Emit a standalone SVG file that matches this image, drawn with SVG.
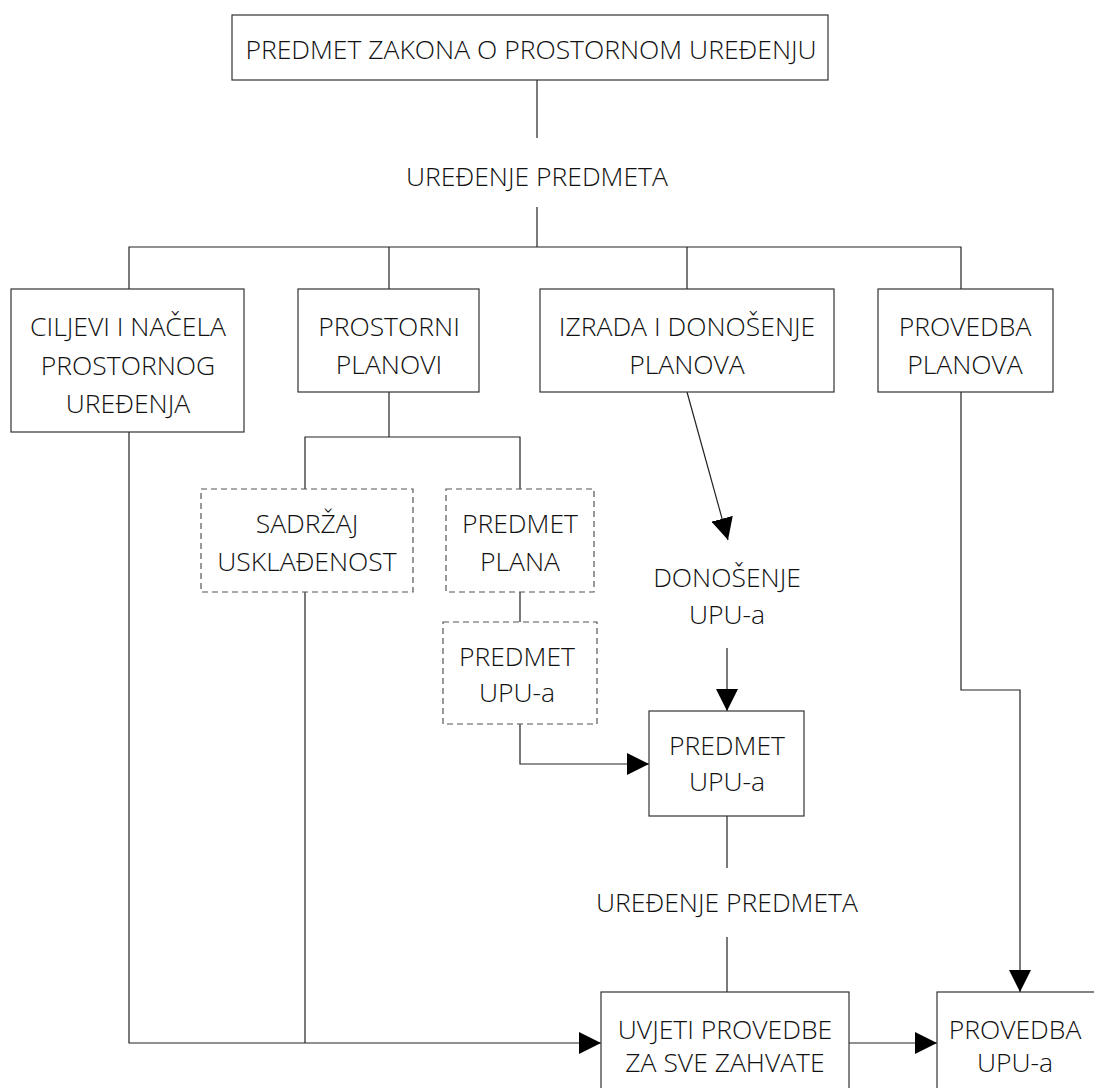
<svg xmlns="http://www.w3.org/2000/svg" width="1094" height="1088" viewBox="0 0 1094 1088">
  <style>
    .box { fill: #ffffff; stroke: #333333; stroke-width: 1.2; }
    .dash { fill: #ffffff; stroke: #555555; stroke-width: 1.2; stroke-dasharray: 6 4; }
    .lbl { font-family: "Open Sans", "Liberation Sans", sans-serif; font-weight: 300; font-size: 26.5px; fill: #111111; text-anchor: middle; }
    .wire { fill: none; stroke: #222222; stroke-width: 1.2; }
  </style>
  <defs>
    <marker id="arrow" viewBox="0 0 10 10" refX="10" refY="5" markerWidth="22" markerHeight="22" markerUnits="userSpaceOnUse" orient="auto">
      <path d="M0,0 L10,5 L0,10 Z" fill="#000000"/>
    </marker>
  </defs>
  <rect width="1094" height="1088" fill="#ffffff"/>

  <g id="connectors">
    <path class="wire" d="M537,80 V138"/>
    <path class="wire" d="M537,207 V247"/>
    <path class="wire" d="M129,289 V247 H961 V289"/>
    <path class="wire" d="M389,247 V289"/>
    <path class="wire" d="M687,247 V289"/>
    <path class="wire" d="M389,392 V437"/>
    <path class="wire" d="M305,489 V437 H520 V489"/>
    <path class="wire" d="M520,592 V622"/>
    <path class="wire" d="M520,724 V764 H649" marker-end="url(#arrow)"/>
    <path class="wire" d="M687,392 L728,540" marker-end="url(#arrow)"/>
    <path class="wire" d="M727,648 V711" marker-end="url(#arrow)"/>
    <path class="wire" d="M727,816 V868"/>
    <path class="wire" d="M727,937 V992"/>
    <path class="wire" d="M129,432 V1043 H601" marker-end="url(#arrow)"/>
    <path class="wire" d="M305,592 V1043"/>
    <path class="wire" d="M849,1043 H937" marker-end="url(#arrow)"/>
    <path class="wire" d="M961,392 V690 H1020 V992" marker-end="url(#arrow)"/>
  </g>

  <g id="predmet-zakona">
    <rect class="box" x="232" y="15" width="596" height="65"/>
    <text class="lbl" x="531" y="59">PREDMET ZAKONA O PROSTORNOM UREĐENJU</text>
  </g>
  <g id="uredjenje-predmeta-1">
    <text class="lbl" x="537" y="186">UREĐENJE PREDMETA</text>
  </g>
  <g id="ciljevi">
    <rect class="box" x="11" y="289" width="233" height="143"/>
    <text class="lbl" x="128" y="336">CILJEVI I NAČELA</text>
    <text class="lbl" x="128" y="375">PROSTORNOG</text>
    <text class="lbl" x="128" y="413">UREĐENJA</text>
  </g>
  <g id="prostorni-planovi">
    <rect class="box" x="298" y="289" width="181" height="103"/>
    <text class="lbl" x="389" y="336">PROSTORNI</text>
    <text class="lbl" x="389" y="374">PLANOVI</text>
  </g>
  <g id="izrada-donosenje">
    <rect class="box" x="540" y="289" width="294" height="103"/>
    <text class="lbl" x="687" y="336">IZRADA I DONOŠENJE</text>
    <text class="lbl" x="687" y="374">PLANOVA</text>
  </g>
  <g id="provedba-planova">
    <rect class="box" x="878" y="289" width="175" height="103"/>
    <text class="lbl" x="965" y="336">PROVEDBA</text>
    <text class="lbl" x="965" y="374">PLANOVA</text>
  </g>
  <g id="sadrzaj">
    <rect class="dash" x="201" y="489" width="212" height="103"/>
    <text class="lbl" x="307" y="533">SADRŽAJ</text>
    <text class="lbl" x="307" y="571">USKLAĐENOST</text>
  </g>
  <g id="predmet-plana">
    <rect class="dash" x="446" y="489" width="148" height="103"/>
    <text class="lbl" x="520" y="533">PREDMET</text>
    <text class="lbl" x="520" y="571">PLANA</text>
  </g>
  <g id="predmet-upu-dashed">
    <rect class="dash" x="443" y="622" width="154" height="102"/>
    <text class="lbl" x="517" y="666">PREDMET</text>
    <text class="lbl" x="517" y="702">UPU-a</text>
  </g>
  <g id="donosenje-upu">
    <text class="lbl" x="727" y="587">DONOŠENJE</text>
    <text class="lbl" x="727" y="624">UPU-a</text>
  </g>
  <g id="predmet-upu">
    <rect class="box" x="649" y="711" width="155" height="105"/>
    <text class="lbl" x="727" y="755">PREDMET</text>
    <text class="lbl" x="727" y="791">UPU-a</text>
  </g>
  <g id="uredjenje-predmeta-2">
    <text class="lbl" x="727" y="912">UREĐENJE PREDMETA</text>
  </g>
  <g id="uvjeti-provedbe">
    <rect class="box" x="601" y="992" width="248" height="110"/>
    <text class="lbl" x="725" y="1039">UVJETI PROVEDBE</text>
    <text class="lbl" x="725" y="1072">ZA SVE ZAHVATE</text>
  </g>
  <g id="provedba-upu">
    <rect class="box" x="937" y="992" width="170" height="110"/>
    <text class="lbl" x="1015" y="1039">PROVEDBA</text>
    <text class="lbl" x="1015" y="1072">UPU-a</text>
  </g>
</svg>
